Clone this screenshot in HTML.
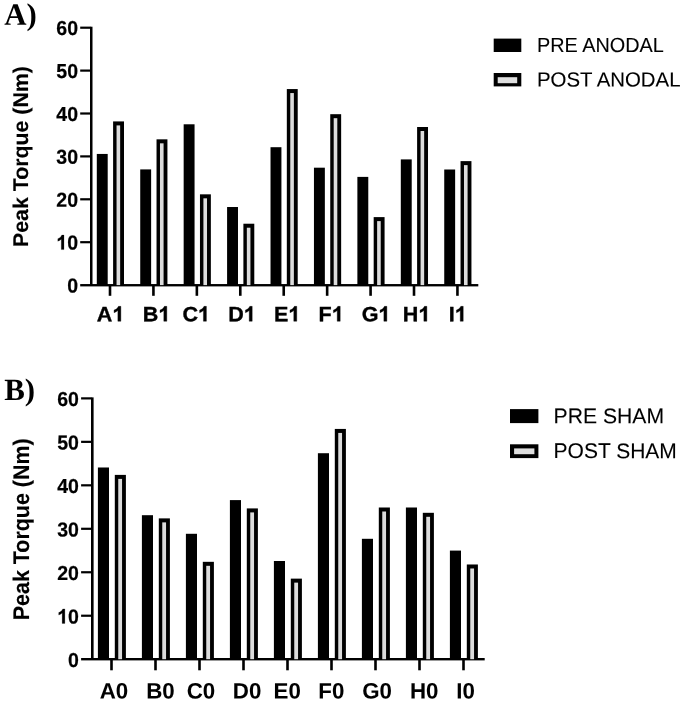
<!DOCTYPE html>
<html><head><meta charset="utf-8"><title>Peak Torque</title>
<style>
html,body{margin:0;padding:0;background:#fff;}
body{width:685px;height:704px;overflow:hidden;}
svg{display:block;filter:blur(0.45px);}
text{font-family:"Liberation Sans",sans-serif;text-rendering:geometricPrecision;fill:#000;stroke:#000;stroke-width:0.35px;}
.yt{font-weight:bold;font-size:19px;}
.xt{font-weight:bold;font-size:19px;}
.ttl{font-weight:bold;stroke-width:0.15px;}
.lg{font-size:20.4px;stroke-width:0.1px;}
.pl{font-family:"Liberation Serif",serif;font-weight:bold;font-size:30.9px;stroke-width:0;}
</style></head>
<body>
<svg width="685" height="704" viewBox="0 0 685 704" fill="#000">
<rect x="0" y="0" width="685" height="704" fill="#fff"/>
<g id="chartA">
<rect x="90.0" y="26.70" width="2.50" height="258.35"/>
<rect x="80.2" y="284.05" width="398.10" height="2.35"/>
<g transform="translate(78.00,292.50) rotate(0.03) scale(0.966,1)"><text class="yt" x="-11.231" y="0" style="font-size:20.2px;stroke-width:0.22px">0</text></g>
<rect x="80.2" y="241.10" width="10.30" height="2.2"/>
<g transform="translate(78.00,249.60) rotate(0.03) scale(0.966,1)"><path transform="translate(-22.462,0) scale(0.02020,-0.02020)" d="M393 0H255V518Q180 447 78 413V538Q132 555 195 604T282 719H393V0Z" stroke="#000" stroke-width="10.9"/><text class="yt" x="-11.231" y="0" style="font-size:20.2px;stroke-width:0.22px">0</text></g>
<rect x="80.2" y="198.20" width="10.30" height="2.2"/>
<g transform="translate(78.00,206.70) rotate(0.03) scale(0.966,1)"><text class="yt" x="-22.462" y="0" style="font-size:20.2px;stroke-width:0.22px">2</text><text class="yt" x="-11.231" y="0" style="font-size:20.2px;stroke-width:0.22px">0</text></g>
<rect x="80.2" y="155.30" width="10.30" height="2.2"/>
<g transform="translate(78.00,163.80) rotate(0.03) scale(0.966,1)"><text class="yt" x="-22.462" y="0" style="font-size:20.2px;stroke-width:0.22px">3</text><text class="yt" x="-11.231" y="0" style="font-size:20.2px;stroke-width:0.22px">0</text></g>
<rect x="80.2" y="112.40" width="10.30" height="2.2"/>
<g transform="translate(78.00,120.90) rotate(0.03) scale(0.966,1)"><text class="yt" x="-22.462" y="0" style="font-size:20.2px;stroke-width:0.22px">4</text><text class="yt" x="-11.231" y="0" style="font-size:20.2px;stroke-width:0.22px">0</text></g>
<rect x="80.2" y="69.50" width="10.30" height="2.2"/>
<g transform="translate(78.00,78.00) rotate(0.03) scale(0.966,1)"><text class="yt" x="-22.462" y="0" style="font-size:20.2px;stroke-width:0.22px">5</text><text class="yt" x="-11.231" y="0" style="font-size:20.2px;stroke-width:0.22px">0</text></g>
<rect x="80.2" y="26.60" width="10.30" height="2.2"/>
<g transform="translate(78.00,35.10) rotate(0.03) scale(0.966,1)"><text class="yt" x="-22.462" y="0" style="font-size:20.2px;stroke-width:0.22px">6</text><text class="yt" x="-11.231" y="0" style="font-size:20.2px;stroke-width:0.22px">0</text></g>
<rect x="96.80" y="153.94" width="10.9" height="131.16"/>
<rect x="113.10" y="121.41" width="10.9" height="163.69"/>
<rect x="116.55" y="125.41" width="3.60" height="159.69" fill="#dcdcdc"/>
<rect x="108.70" y="285.9" width="2.6" height="9.9"/>
<g transform="translate(110.60,321.25) rotate(0.03) scale(1.04,1)"><text class="xt" x="-13.227" y="0" style="font-size:20.7px;stroke-width:0.35px">A</text><path transform="translate(1.718,0) scale(0.02070,-0.02070)" d="M393 0H255V518Q180 447 78 413V538Q132 555 195 604T282 719H393V0Z" stroke="#000" stroke-width="16.9"/></g>
<rect x="140.23" y="169.41" width="10.9" height="115.69"/>
<rect x="156.53" y="139.33" width="10.9" height="145.77"/>
<rect x="159.98" y="143.33" width="3.60" height="141.77" fill="#dcdcdc"/>
<rect x="152.13" y="285.9" width="2.6" height="9.9"/>
<g transform="translate(156.55,321.25) rotate(0.03) scale(1.04,1)"><text class="xt" x="-13.227" y="0" style="font-size:20.7px;stroke-width:0.35px">B</text><path transform="translate(1.718,0) scale(0.02070,-0.02070)" d="M393 0H255V518Q180 447 78 413V538Q132 555 195 604T282 719H393V0Z" stroke="#000" stroke-width="16.9"/></g>
<rect x="183.66" y="124.29" width="10.9" height="160.81"/>
<rect x="199.96" y="194.33" width="10.9" height="90.77"/>
<rect x="203.41" y="198.33" width="3.60" height="86.77" fill="#dcdcdc"/>
<rect x="195.56" y="285.9" width="2.6" height="9.9"/>
<g transform="translate(196.15,321.25) rotate(0.03) scale(1.04,1)"><text class="xt" x="-13.227" y="0" style="font-size:20.7px;stroke-width:0.35px">C</text><path transform="translate(1.718,0) scale(0.02070,-0.02070)" d="M393 0H255V518Q180 447 78 413V538Q132 555 195 604T282 719H393V0Z" stroke="#000" stroke-width="16.9"/></g>
<rect x="227.09" y="207.01" width="10.9" height="78.09"/>
<rect x="243.39" y="223.72" width="10.9" height="61.38"/>
<rect x="246.84" y="227.72" width="3.60" height="57.38" fill="#dcdcdc"/>
<rect x="238.99" y="285.9" width="2.6" height="9.9"/>
<g transform="translate(241.95,321.25) rotate(0.03) scale(1.04,1)"><text class="xt" x="-13.227" y="0" style="font-size:20.7px;stroke-width:0.35px">D</text><path transform="translate(1.718,0) scale(0.02070,-0.02070)" d="M393 0H255V518Q180 447 78 413V538Q132 555 195 604T282 719H393V0Z" stroke="#000" stroke-width="16.9"/></g>
<rect x="270.52" y="147.20" width="10.9" height="137.90"/>
<rect x="286.82" y="89.06" width="10.9" height="196.04"/>
<rect x="290.27" y="93.06" width="3.60" height="192.04" fill="#dcdcdc"/>
<rect x="282.42" y="285.9" width="2.6" height="9.9"/>
<g transform="translate(287.10,321.25) rotate(0.03) scale(1.04,1)"><text class="xt" x="-12.658" y="0" style="font-size:20.7px;stroke-width:0.35px">E</text><path transform="translate(1.149,0) scale(0.02070,-0.02070)" d="M393 0H255V518Q180 447 78 413V538Q132 555 195 604T282 719H393V0Z" stroke="#000" stroke-width="16.9"/></g>
<rect x="313.95" y="167.69" width="10.9" height="117.41"/>
<rect x="330.25" y="114.19" width="10.9" height="170.91"/>
<rect x="333.70" y="118.19" width="3.60" height="166.91" fill="#dcdcdc"/>
<rect x="325.85" y="285.9" width="2.6" height="9.9"/>
<g transform="translate(331.15,321.25) rotate(0.03) scale(1.04,1)"><text class="xt" x="-12.078" y="0" style="font-size:20.7px;stroke-width:0.35px">F</text><path transform="translate(0.569,0) scale(0.02070,-0.02070)" d="M393 0H255V518Q180 447 78 413V538Q132 555 195 604T282 719H393V0Z" stroke="#000" stroke-width="16.9"/></g>
<rect x="357.38" y="176.89" width="10.9" height="108.21"/>
<rect x="373.68" y="217.11" width="10.9" height="67.99"/>
<rect x="377.13" y="221.11" width="3.60" height="63.99" fill="#dcdcdc"/>
<rect x="369.28" y="285.9" width="2.6" height="9.9"/>
<g transform="translate(376.00,321.25) rotate(0.03) scale(1.04,1)"><text class="xt" x="-13.807" y="0" style="font-size:20.7px;stroke-width:0.35px">G</text><path transform="translate(2.298,0) scale(0.02070,-0.02070)" d="M393 0H255V518Q180 447 78 413V538Q132 555 195 604T282 719H393V0Z" stroke="#000" stroke-width="16.9"/></g>
<rect x="400.81" y="159.40" width="10.9" height="125.70"/>
<rect x="417.11" y="127.00" width="10.9" height="158.10"/>
<rect x="420.56" y="131.00" width="3.60" height="154.10" fill="#dcdcdc"/>
<rect x="412.71" y="285.9" width="2.6" height="9.9"/>
<g transform="translate(416.60,321.25) rotate(0.03) scale(1.04,1)"><text class="xt" x="-13.227" y="0" style="font-size:20.7px;stroke-width:0.35px">H</text><path transform="translate(1.718,0) scale(0.02070,-0.02070)" d="M393 0H255V518Q180 447 78 413V538Q132 555 195 604T282 719H393V0Z" stroke="#000" stroke-width="16.9"/></g>
<rect x="444.24" y="169.50" width="10.9" height="115.60"/>
<rect x="460.54" y="161.12" width="10.9" height="123.98"/>
<rect x="463.99" y="165.12" width="3.60" height="119.98" fill="#dcdcdc"/>
<rect x="456.14" y="285.9" width="2.6" height="9.9"/>
<g transform="translate(457.75,321.25) rotate(0.03) scale(1.04,1)"><text class="xt" x="-8.632" y="0" style="font-size:20.7px;stroke-width:0.35px">I</text><path transform="translate(-2.877,0) scale(0.02070,-0.02070)" d="M393 0H255V518Q180 447 78 413V538Q132 555 195 604T282 719H393V0Z" stroke="#000" stroke-width="16.9"/></g>
<text class="ttl" style="font-size:21.3px" transform="translate(28.3,156.55) rotate(-90)" text-anchor="middle" textLength="180.9" lengthAdjust="spacingAndGlyphs">Peak Torque (Nm)</text>
<text class="pl" transform="translate(4.2,24.8) rotate(0.03)">A)</text>
<rect x="493.7" y="38.6" width="27.60" height="13.40"/>
<rect x="493.7" y="73.0" width="27.60" height="13.40"/>
<rect x="497.7" y="77.2" width="19.50" height="6.00" fill="#dedede"/>
<text class="lg" style="font-size:20.4px" transform="translate(537.0,52.0) rotate(0.03)" textLength="126.8" lengthAdjust="spacingAndGlyphs">PRE ANODAL</text>
<text class="lg" style="font-size:20.4px" transform="translate(537.0,86.45) rotate(0.03)" textLength="143.5" lengthAdjust="spacingAndGlyphs">POST ANODAL</text>
</g>
<g id="chartB">
<rect x="91.0" y="397.38" width="2.60" height="261.62"/>
<rect x="81.1" y="658.0" width="403.60" height="2.40"/>
<g transform="translate(78.90,666.90) rotate(0.03) scale(0.966,1)"><text class="yt" x="-11.231" y="0" style="font-size:20.2px;stroke-width:0.22px">0</text></g>
<rect x="81.1" y="614.63" width="10.40" height="2.2"/>
<g transform="translate(78.90,623.43) rotate(0.03) scale(0.966,1)"><path transform="translate(-22.462,0) scale(0.02020,-0.02020)" d="M393 0H255V518Q180 447 78 413V538Q132 555 195 604T282 719H393V0Z" stroke="#000" stroke-width="10.9"/><text class="yt" x="-11.231" y="0" style="font-size:20.2px;stroke-width:0.22px">0</text></g>
<rect x="81.1" y="571.16" width="10.40" height="2.2"/>
<g transform="translate(78.90,579.96) rotate(0.03) scale(0.966,1)"><text class="yt" x="-22.462" y="0" style="font-size:20.2px;stroke-width:0.22px">2</text><text class="yt" x="-11.231" y="0" style="font-size:20.2px;stroke-width:0.22px">0</text></g>
<rect x="81.1" y="527.69" width="10.40" height="2.2"/>
<g transform="translate(78.90,536.49) rotate(0.03) scale(0.966,1)"><text class="yt" x="-22.462" y="0" style="font-size:20.2px;stroke-width:0.22px">3</text><text class="yt" x="-11.231" y="0" style="font-size:20.2px;stroke-width:0.22px">0</text></g>
<rect x="81.1" y="484.22" width="10.40" height="2.2"/>
<g transform="translate(78.90,493.02) rotate(0.03) scale(0.966,1)"><text class="yt" x="-22.462" y="0" style="font-size:20.2px;stroke-width:0.22px">4</text><text class="yt" x="-11.231" y="0" style="font-size:20.2px;stroke-width:0.22px">0</text></g>
<rect x="81.1" y="440.75" width="10.40" height="2.2"/>
<g transform="translate(78.90,449.55) rotate(0.03) scale(0.966,1)"><text class="yt" x="-22.462" y="0" style="font-size:20.2px;stroke-width:0.22px">5</text><text class="yt" x="-11.231" y="0" style="font-size:20.2px;stroke-width:0.22px">0</text></g>
<rect x="81.1" y="397.28" width="10.40" height="2.2"/>
<g transform="translate(78.90,406.08) rotate(0.03) scale(0.966,1)"><text class="yt" x="-22.462" y="0" style="font-size:20.2px;stroke-width:0.22px">6</text><text class="yt" x="-11.231" y="0" style="font-size:20.2px;stroke-width:0.22px">0</text></g>
<rect x="97.90" y="467.49" width="11.1" height="191.71"/>
<rect x="114.80" y="474.89" width="11.1" height="184.31"/>
<rect x="118.25" y="478.89" width="3.80" height="180.31" fill="#dcdcdc"/>
<rect x="110.20" y="659.9" width="2.6" height="10.4"/>
<g transform="translate(113.90,698.55) rotate(0.03) scale(1.0,1)"><text class="xt" x="-14.250" y="0" style="font-size:22.3px;stroke-width:0.05px">A</text><text class="xt" x="1.851" y="0" style="font-size:22.3px;stroke-width:0.05px">0</text></g>
<rect x="141.90" y="515.20" width="11.1" height="144.00"/>
<rect x="158.80" y="518.38" width="11.1" height="140.82"/>
<rect x="162.25" y="522.38" width="3.80" height="136.82" fill="#dcdcdc"/>
<rect x="154.20" y="659.9" width="2.6" height="10.4"/>
<g transform="translate(160.50,698.55) rotate(0.03) scale(1.0,1)"><text class="xt" x="-14.250" y="0" style="font-size:22.3px;stroke-width:0.05px">B</text><text class="xt" x="1.851" y="0" style="font-size:22.3px;stroke-width:0.05px">0</text></g>
<rect x="185.90" y="533.79" width="11.1" height="125.41"/>
<rect x="202.80" y="561.82" width="11.1" height="97.38"/>
<rect x="206.25" y="565.82" width="3.80" height="93.38" fill="#dcdcdc"/>
<rect x="198.20" y="659.9" width="2.6" height="10.4"/>
<g transform="translate(200.90,698.55) rotate(0.03) scale(1.0,1)"><text class="xt" x="-14.250" y="0" style="font-size:22.3px;stroke-width:0.05px">C</text><text class="xt" x="1.851" y="0" style="font-size:22.3px;stroke-width:0.05px">0</text></g>
<rect x="229.90" y="500.10" width="11.1" height="159.10"/>
<rect x="246.80" y="508.41" width="11.1" height="150.79"/>
<rect x="250.25" y="512.41" width="3.80" height="146.79" fill="#dcdcdc"/>
<rect x="242.20" y="659.9" width="2.6" height="10.4"/>
<g transform="translate(247.05,698.55) rotate(0.03) scale(1.0,1)"><text class="xt" x="-14.250" y="0" style="font-size:22.3px;stroke-width:0.05px">D</text><text class="xt" x="1.851" y="0" style="font-size:22.3px;stroke-width:0.05px">0</text></g>
<rect x="273.90" y="561.00" width="11.1" height="98.20"/>
<rect x="290.80" y="578.63" width="11.1" height="80.57"/>
<rect x="294.25" y="582.63" width="3.80" height="76.57" fill="#dcdcdc"/>
<rect x="286.20" y="659.9" width="2.6" height="10.4"/>
<g transform="translate(287.20,698.55) rotate(0.03) scale(1.0,1)"><text class="xt" x="-13.636" y="0" style="font-size:22.3px;stroke-width:0.05px">E</text><text class="xt" x="1.238" y="0" style="font-size:22.3px;stroke-width:0.05px">0</text></g>
<rect x="317.90" y="453.22" width="11.1" height="205.98"/>
<rect x="334.80" y="428.93" width="11.1" height="230.27"/>
<rect x="338.25" y="432.93" width="3.80" height="226.27" fill="#dcdcdc"/>
<rect x="330.20" y="659.9" width="2.6" height="10.4"/>
<g transform="translate(331.35,698.55) rotate(0.03) scale(1.0,1)"><text class="xt" x="-13.012" y="0" style="font-size:22.3px;stroke-width:0.05px">F</text><text class="xt" x="0.613" y="0" style="font-size:22.3px;stroke-width:0.05px">0</text></g>
<rect x="361.90" y="538.80" width="11.1" height="120.40"/>
<rect x="378.80" y="507.50" width="11.1" height="151.70"/>
<rect x="382.25" y="511.50" width="3.80" height="147.70" fill="#dcdcdc"/>
<rect x="374.20" y="659.9" width="2.6" height="10.4"/>
<g transform="translate(377.00,698.55) rotate(0.03) scale(1.0,1)"><text class="xt" x="-14.874" y="0" style="font-size:22.3px;stroke-width:0.05px">G</text><text class="xt" x="2.475" y="0" style="font-size:22.3px;stroke-width:0.05px">0</text></g>
<rect x="405.90" y="507.50" width="11.1" height="151.70"/>
<rect x="422.80" y="512.81" width="11.1" height="146.39"/>
<rect x="426.25" y="516.81" width="3.80" height="142.39" fill="#dcdcdc"/>
<rect x="418.20" y="659.9" width="2.6" height="10.4"/>
<g transform="translate(424.20,698.55) rotate(0.03) scale(1.0,1)"><text class="xt" x="-14.250" y="0" style="font-size:22.3px;stroke-width:0.05px">H</text><text class="xt" x="1.851" y="0" style="font-size:22.3px;stroke-width:0.05px">0</text></g>
<rect x="449.90" y="550.59" width="11.1" height="108.61"/>
<rect x="466.80" y="564.48" width="11.1" height="94.72"/>
<rect x="470.25" y="568.48" width="3.80" height="90.72" fill="#dcdcdc"/>
<rect x="462.20" y="659.9" width="2.6" height="10.4"/>
<g transform="translate(465.55,698.55) rotate(0.03) scale(1.0,1)"><text class="xt" x="-9.299" y="0" style="font-size:22.3px;stroke-width:0.05px">I</text><text class="xt" x="-3.100" y="0" style="font-size:22.3px;stroke-width:0.05px">0</text></g>
<text class="ttl" style="font-size:22.6px" transform="translate(28.7,529.3) rotate(-90)" text-anchor="middle" textLength="181.9" lengthAdjust="spacingAndGlyphs">Peak Torque (Nm)</text>
<text class="pl" transform="translate(4.2,399.9) rotate(0.03)">B)</text>
<rect x="510.0" y="409.1" width="28.40" height="14.00"/>
<rect x="510.0" y="444.3" width="28.40" height="13.80"/>
<rect x="514.1" y="448.4" width="20.30" height="5.80" fill="#dedede"/>
<text class="lg" style="font-size:21.3px" transform="translate(553.6,423.3) rotate(0.03)" textLength="110.4" lengthAdjust="spacingAndGlyphs">PRE SHAM</text>
<text class="lg" style="font-size:21.3px" transform="translate(553.6,458.1) rotate(0.03)" textLength="123.2" lengthAdjust="spacingAndGlyphs">POST SHAM</text>
</g>
</svg>
</body></html>
